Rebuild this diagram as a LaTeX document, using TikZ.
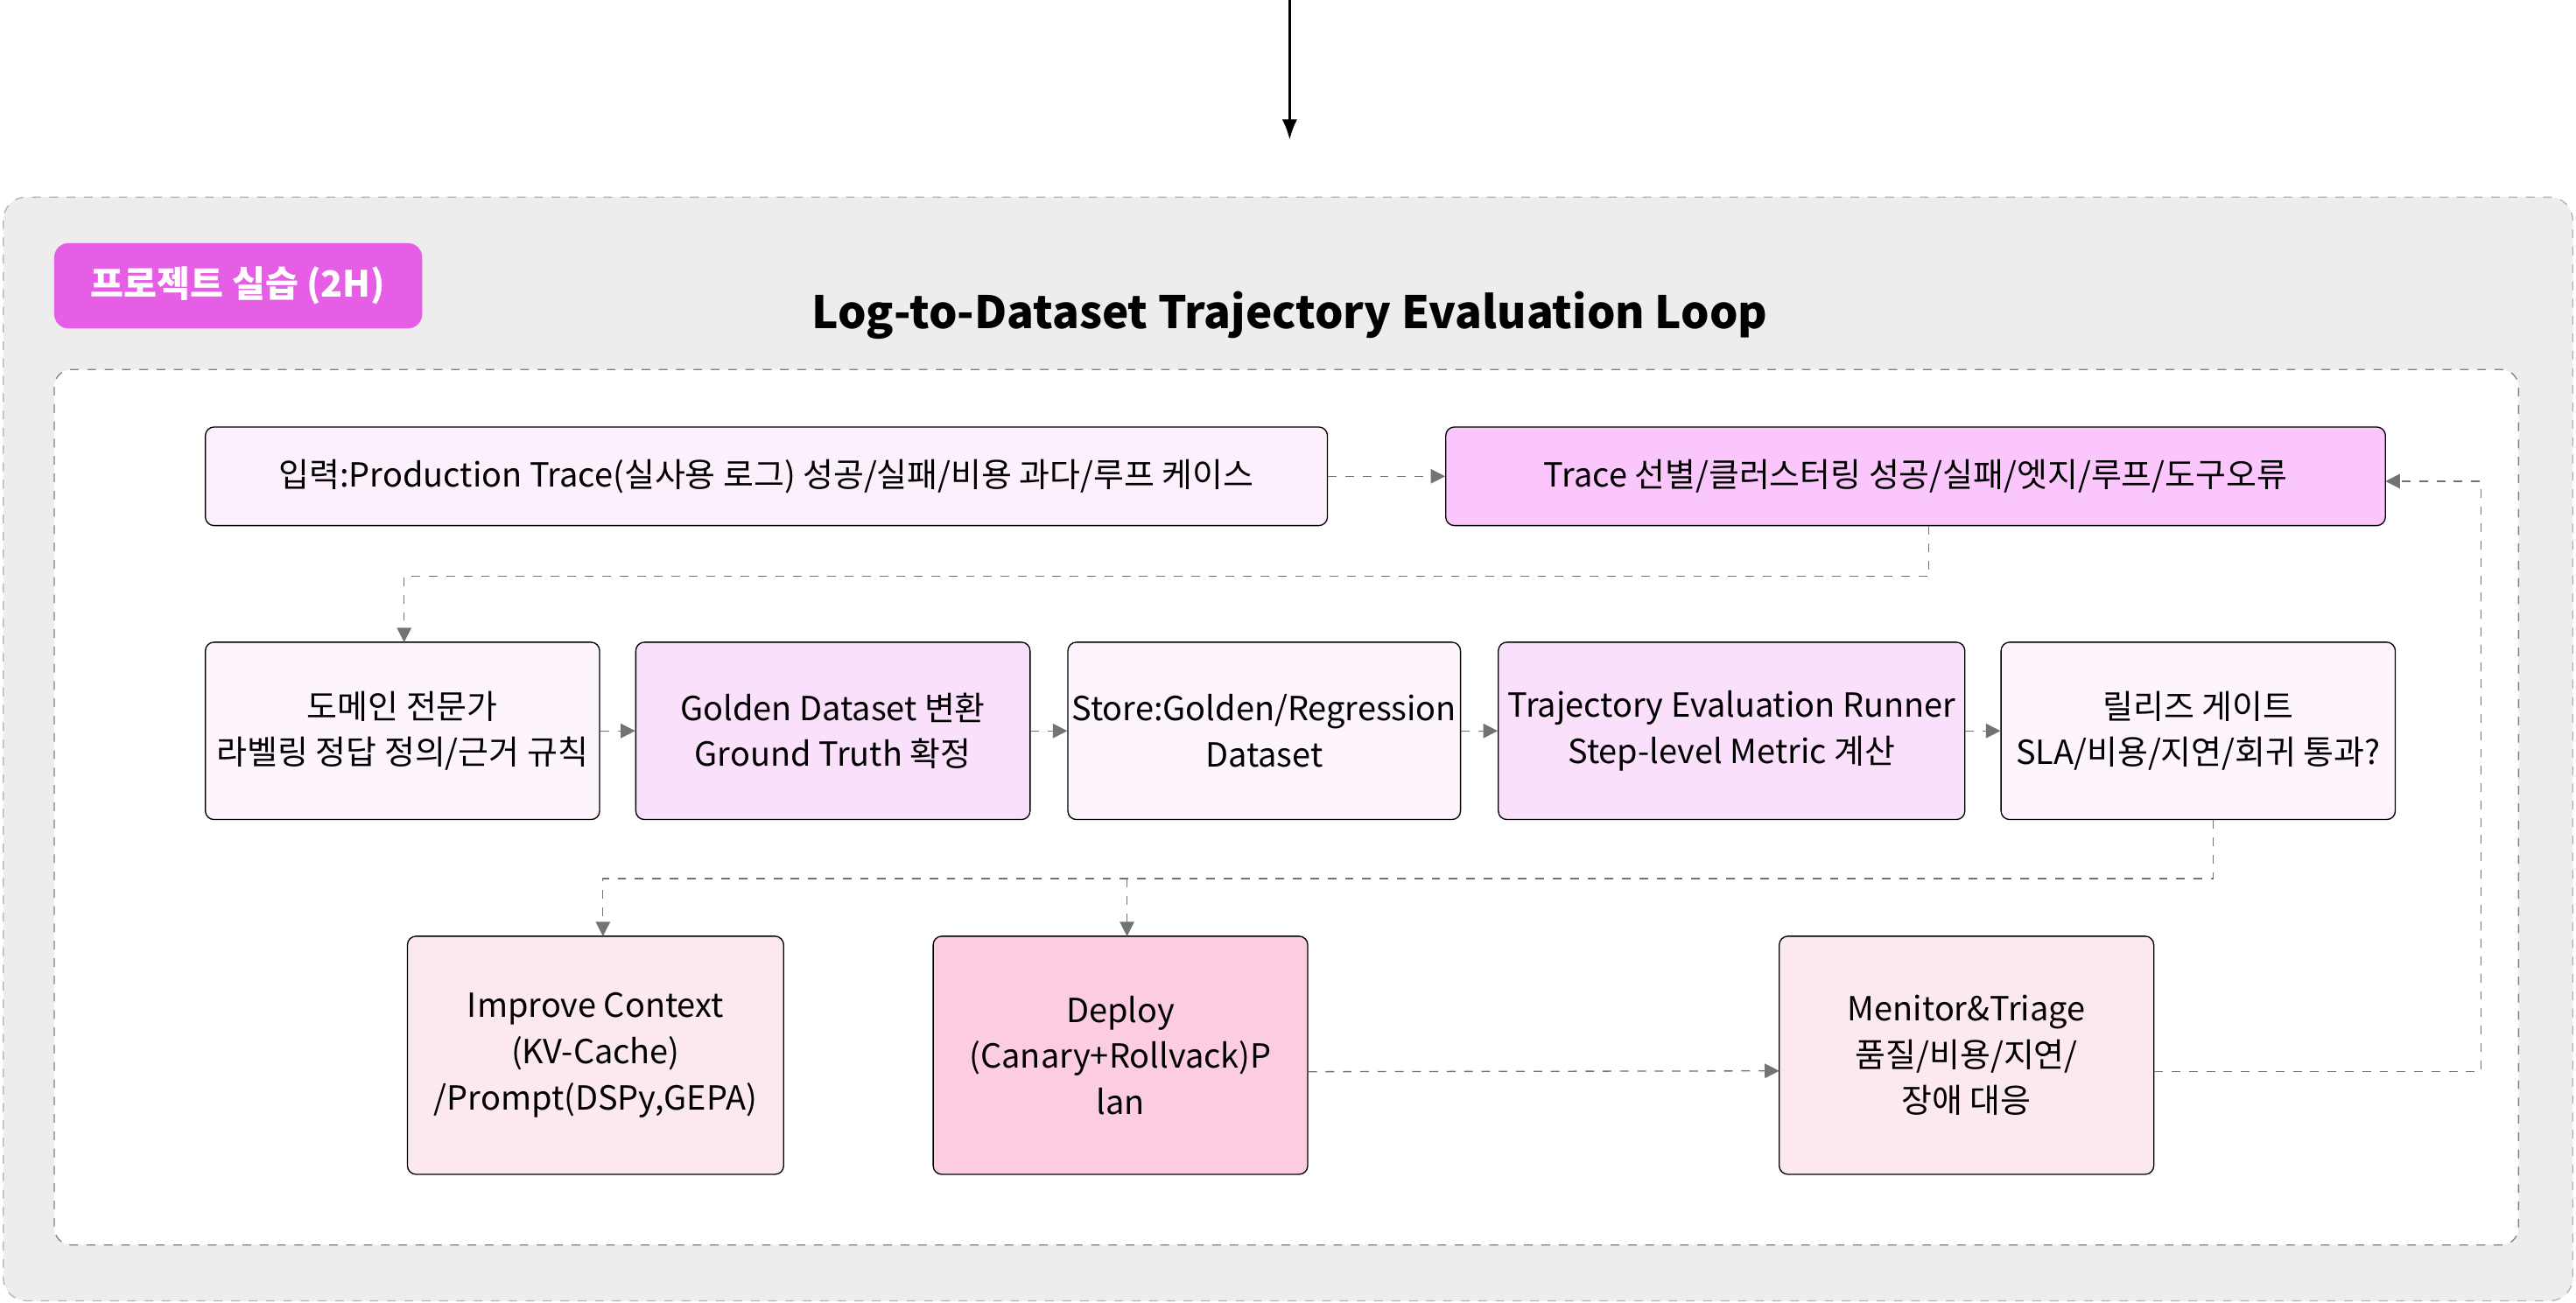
\documentclass[tikz,border=0pt]{standalone}
\usepackage{fontspec}
\setmainfont{Noto Sans CJK KR}
\usetikzlibrary{arrows.meta}
\definecolor{tagpink}{HTML}{E65EE6}
\definecolor{pA}{HTML}{FDF0FD}
\definecolor{pB}{HTML}{FBC6FB}
\definecolor{pC}{HTML}{FDF4FD}
\definecolor{pD}{HTML}{FAE0FA}
\definecolor{pE}{HTML}{FCE8F0}
\definecolor{pF}{HTML}{FCCCE0}
\tikzset{
  box/.style={draw=black,rounded corners=3pt,align=center,font=\fontsize{11.5}{16}\selectfont,inner sep=0pt},
  flow/.style={draw=gray!90!black,dashed,-{Triangle[length=5pt,width=5pt]}}
}
\begin{document}
\begin{tikzpicture}[x=0.02cm,y=-0.02cm]
  \useasboundingbox (0,0) rectangle (1568,793);
  \fill[white] (0,0) rectangle (1568,793);
  % frames
  \draw[thick,-{Latex[length=7pt]}] (785,0) -- (785,85);
  \draw[gray!60,dashed,fill=black!7,rounded corners=8pt] (2,120) rectangle (1566,792);
  \node[fill=tagpink,rounded corners=5pt,minimum width=224*0.02cm,minimum height=52*0.02cm,text=white,font=\bfseries\fontsize{12.5}{14}\selectfont] (tag) at (145,174) {프로젝트 실습 (2H)};
  \node[font=\bfseries\fontsize{15.5}{18}\selectfont] (title) at (785,192) {Log-to-Dataset Trajectory Evaluation Loop};
  \draw[gray,dashed,fill=white,rounded corners=6pt] (33,225) rectangle (1533,758);
  % row 1
  \node[box,fill=pA,minimum width=683*0.02cm,minimum height=60*0.02cm] (a) at (466.5,290) {입력:Production Trace(실사용 로그) 성공/실패/비용 과다/루프 케이스};
  \node[box,fill=pB,minimum width=572*0.02cm,minimum height=60*0.02cm] (b) at (1166,290) {Trace 선별/클러스터링 성공/실패/엣지/루프/도구오류};
  % row 2
  \node[box,fill=pC,minimum width=240*0.02cm,minimum height=108*0.02cm] (c) at (245,445) {도메인 전문가\\라벨링 정답 정의/근거 규칙};
  \node[box,fill=pD,minimum width=240*0.02cm,minimum height=108*0.02cm] (d) at (507,445) {Golden Dataset 변환\\Ground Truth 확정};
  \node[box,fill=pC,minimum width=239*0.02cm,minimum height=108*0.02cm] (e) at (769.5,445) {Store:Golden/Regression\\Dataset};
  \node[box,fill=pD,minimum width=284*0.02cm,minimum height=108*0.02cm] (f) at (1054,445) {Trajectory Evaluation Runner\\Step-level Metric 계산};
  \node[box,fill=pC,minimum width=240*0.02cm,minimum height=108*0.02cm] (g) at (1338,445) {릴리즈 게이트\\SLA/비용/지연/회귀 통과?};
  % row 3
  \node[box,fill=pE,minimum width=229*0.02cm,minimum height=145*0.02cm] (h) at (362.5,642.5) {Improve Context\\(KV-Cache)\\/Prompt(DSPy,GEPA)};
  \node[box,fill=pF,minimum width=228*0.02cm,minimum height=145*0.02cm] (i) at (682,642.5) {Deploy\\(Canary+Rollvack)P\\lan};
  \node[box,fill=pE,minimum width=228*0.02cm,minimum height=145*0.02cm] (j) at (1197,642.5) {Menitor\&Triage\\품질/비용/지연/\\장애 대응};
  % connectors
  \draw[flow] (a.east) -- (b.west);
  \draw[flow] (b.south) ++(8,0) |- (246,351) -- (246,391);
  \draw[flow] (c) -- (d);
  \draw[flow] (d) -- (e);
  \draw[flow] (e) -- (f);
  \draw[flow] (f) -- (g);
  \draw[flow] (g.south) ++(9,0) |- (367,535) -- (367,570);
  \draw[flow] (686,535) -- (686,570);
  \draw[flow] (i.east) ++(0,10) -- (1083,652);
  \draw[flow] (j.east) ++(0,10) -| (1510,293) -- (1452,293);
\end{tikzpicture}
\end{document}
